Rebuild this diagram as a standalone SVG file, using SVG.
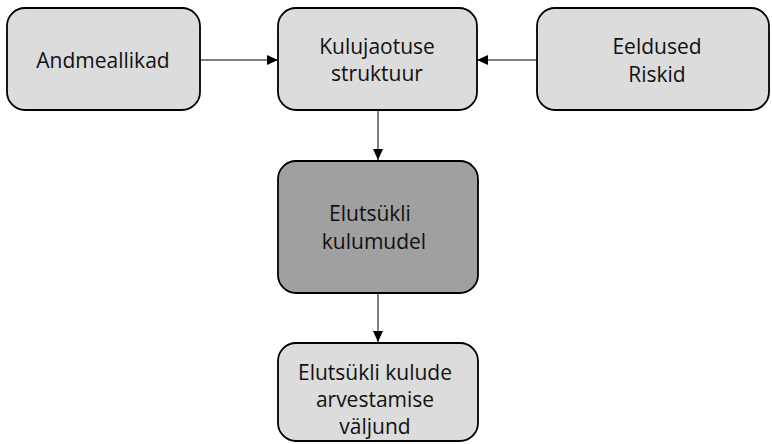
<svg xmlns="http://www.w3.org/2000/svg" width="772" height="444" viewBox="0 0 772 444">
<defs>
<marker id="ah" markerWidth="12" markerHeight="12" refX="11" refY="6" orient="auto" markerUnits="userSpaceOnUse">
<path d="M0,1 L11,6 L0,11 Z" fill="#000"/>
</marker>
<style>
.box{fill:#dcdcdc;stroke:#000;stroke-width:1.8}
.dark{fill:#a0a0a0;stroke:#000;stroke-width:1.8}
.t{font-family:"Open Sans","Liberation Sans",sans-serif;font-size:21px;fill:#111;text-anchor:middle}
.c{stroke:#000;stroke-width:1;fill:none;marker-end:url(#ah)}
</style>
</defs>
<g id="connectors">
<line class="c" x1="200" y1="60" x2="278" y2="60"/>
<line class="c" x1="537" y1="60" x2="477" y2="60"/>
<line class="c" x1="378" y1="110" x2="378" y2="160"/>
<line class="c" x1="378" y1="293" x2="378" y2="342"/>
</g>
<g id="andmeallikad">
<rect class="box" x="7" y="8" width="193" height="102" rx="18"/>
<text class="t" x="103" y="68">Andmeallikad</text>
</g>
<g id="kulujaotuse">
<rect class="box" x="278" y="8" width="199" height="102" rx="18"/>
<text class="t" x="377" y="54">Kulujaotuse</text>
<text class="t" x="377" y="81">struktuur</text>
</g>
<g id="eeldused">
<rect class="box" x="537" y="8" width="232" height="102" rx="18"/>
<text class="t" x="657" y="54">Eeldused</text>
<text class="t" x="657" y="82">Riskid</text>
</g>
<g id="kulumudel">
<rect class="dark" x="278" y="161" width="200" height="132" rx="18"/>
<text class="t" x="370" y="221">Elutsükli</text>
<text class="t" x="374" y="249">kulumudel</text>
</g>
<g id="valjund">
<rect class="box" x="278" y="343" width="200" height="98" rx="18"/>
<text class="t" x="375" y="380">Elutsükli kulude</text>
<text class="t" x="375" y="407">arvestamise</text>
<text class="t" x="375" y="434">väljund</text>
</g>
</svg>
